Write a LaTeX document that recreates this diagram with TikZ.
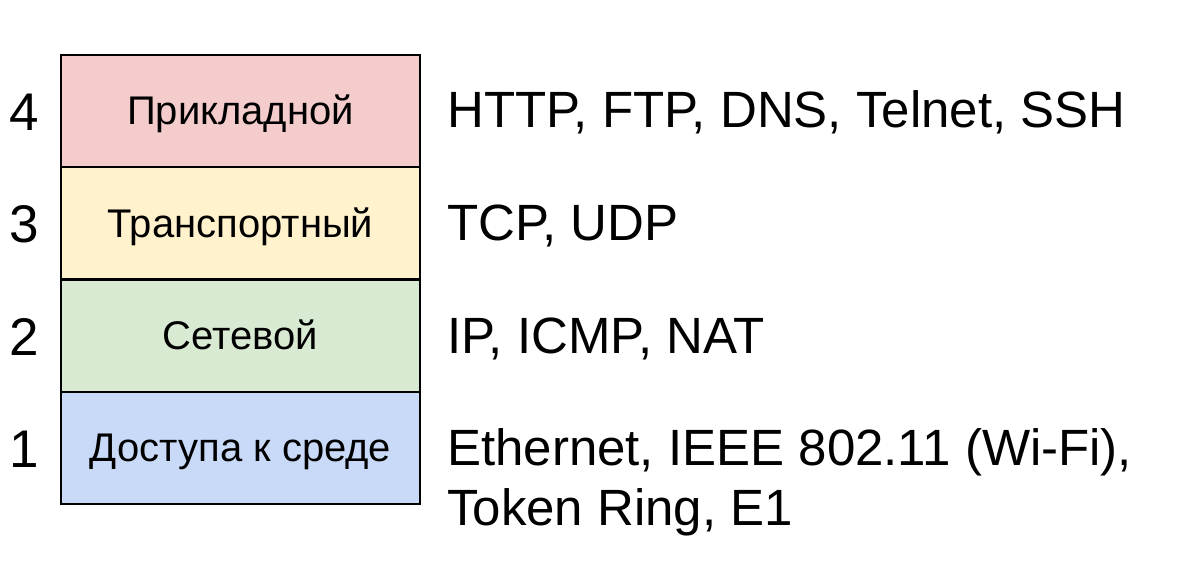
\documentclass[tikz,border=0pt]{standalone}
\usepackage{fontspec}
\setmainfont{Liberation Sans}
\definecolor{lpink}{HTML}{F4CCCC}
\definecolor{lyellow}{HTML}{FFF2CC}
\definecolor{lgreen}{HTML}{D9EAD3}
\definecolor{lblue}{HTML}{C9DAF8}
\begin{document}
\begin{tikzpicture}[x=1pt,y=-1pt,
  layer/.style={draw=black,line width=2.2pt,minimum width=359pt,minimum height=112.25pt,
    inner sep=0pt,font=\fontsize{40}{46}\selectfont,text height=27.5pt,text depth=0pt},
  num/.style={anchor=base,inner sep=0pt,font=\fontsize{53}{60}\selectfont},
  proto/.style={anchor=base west,inner sep=0pt,font=\fontsize{51}{60}\selectfont}]
\useasboundingbox (0,0) rectangle (1200,587);
\fill[white] (0,0) rectangle (1200,587);
\node[layer,fill=lpink]   (l4) at (240.5,111.1) {Прикладной};
\node[layer,fill=lyellow] (l3) at (240.5,223.4) {Транспортный};
\node[layer,fill=lgreen]  (l2) at (240.5,335.6) {Сетевой};
\node[layer,fill=lblue]   (l1) at (240.5,447.9) {Доступа к среде};
\node[num] (n4) at (24.5,130.5) {4};
\node[num] (n3) at (24.5,242.5) {3};
\node[num] (n2) at (24.5,355) {2};
\node[num] (n1) at (24.5,467.5) {1};
\begin{scope}
\clip (430,0) rectangle (1132.5,170);
\node[proto] (p4) at (447,127.3) {HTTP, FTP, DNS, Telnet, SSH};
\end{scope}
\node[proto] (p3) at (447,240.7) {TCP, UDP};
\node[proto] (p2) at (447,353) {IP, ICMP, NAT};
\node[proto] (p1a) at (447,465) {Ethernet, IEEE 802.11 (Wi-Fi),};
\node[proto] (p1b) at (447,525) {Token Ring, E1};
\end{tikzpicture}
\end{document}
